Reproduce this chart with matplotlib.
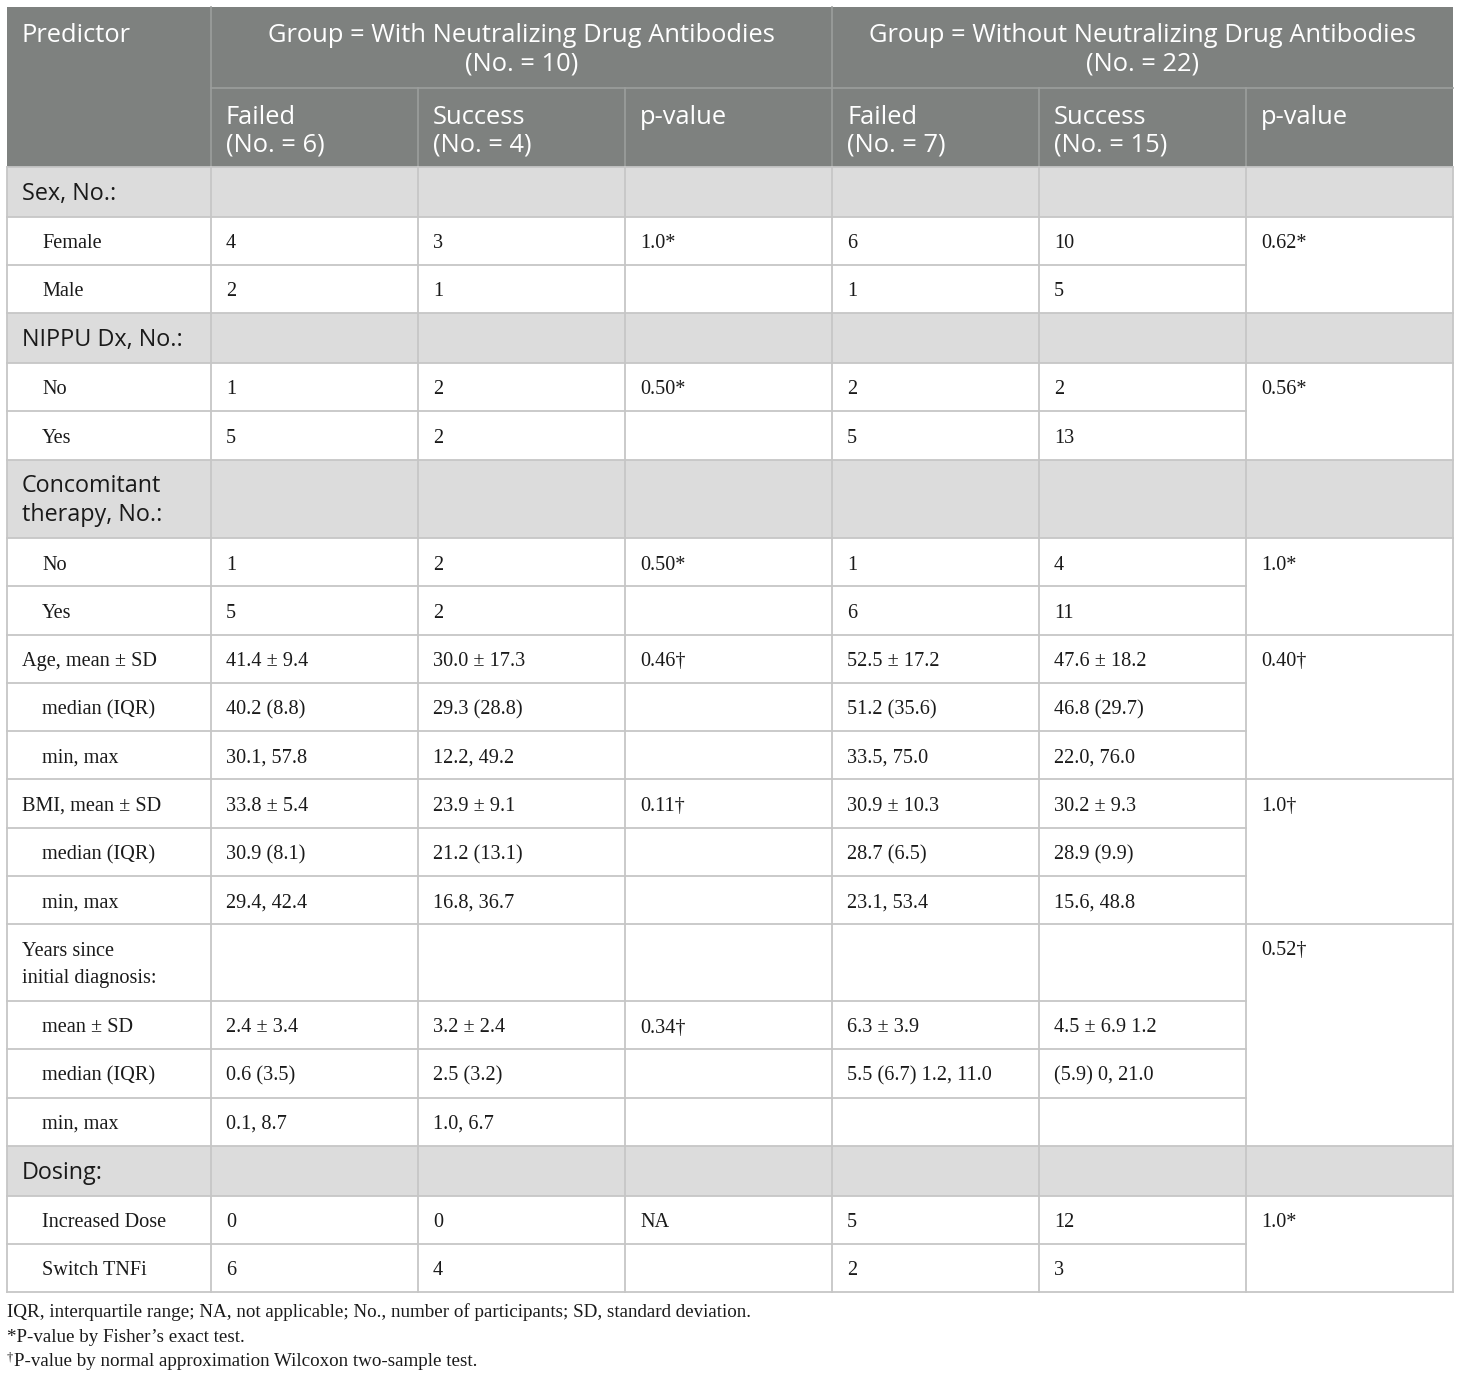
import matplotlib.pyplot as plt
from matplotlib.patches import Rectangle

# ---- table content ----
group_titles = ["Group = With Neutralizing Drug Antibodies\n(No. = 10)",
                "Group = Without Neutralizing Drug Antibodies\n(No. = 22)"]
sub_headers = ["Failed\n(No. = 6)", "Success\n(No. = 4)", "p-value",
               "Failed\n(No. = 7)", "Success\n(No. = 15)", "p-value"]

row_labels = ["Sex, No.:", "Female", "Male",
              "NIPPU Dx, No.:", "No", "Yes",
              "Concomitant\ntherapy, No.:", "No", "Yes",
              "Age, mean \u00b1 SD", "median (IQR)", "min, max",
              "BMI, mean \u00b1 SD", "median (IQR)", "min, max",
              "Years since\ninitial diagnosis:", "mean \u00b1 SD", "median (IQR)", "min, max",
              "Dosing:", "Increased Dose", "Switch TNFi"]
# S = section row (grey), M = main row, I = indented row
row_kinds = ["S", "I", "I", "S", "I", "I", "S", "I", "I",
             "M", "I", "I", "M", "I", "I", "M", "I", "I", "I",
             "S", "I", "I"]

failed_with = ["", "4", "2", "", "1", "5", "", "1", "5",
               "41.4 \u00b1 9.4", "40.2 (8.8)", "30.1, 57.8",
               "33.8 \u00b1 5.4", "30.9 (8.1)", "29.4, 42.4",
               "", "2.4 \u00b1 3.4", "0.6 (3.5)", "0.1, 8.7", "", "0", "6"]
success_with = ["", "3", "1", "", "2", "2", "", "2", "2",
                "30.0 \u00b1 17.3", "29.3 (28.8)", "12.2, 49.2",
                "23.9 \u00b1 9.1", "21.2 (13.1)", "16.8, 36.7",
                "", "3.2 \u00b1 2.4", "2.5 (3.2)", "1.0, 6.7", "", "0", "4"]
p_with = ["", "1.0*", "", "", "0.50*", "", "", "0.50*", "",
          "0.46\u2020", "", "", "0.11\u2020", "", "",
          "", "0.34\u2020", "", "", "", "NA", ""]
failed_without = ["", "6", "1", "", "2", "5", "", "1", "6",
                  "52.5 \u00b1 17.2", "51.2 (35.6)", "33.5, 75.0",
                  "30.9 \u00b1 10.3", "28.7 (6.5)", "23.1, 53.4",
                  "", "6.3 \u00b1 3.9", "5.5 (6.7) 1.2, 11.0", "", "", "5", "2"]
success_without = ["", "10", "5", "", "2", "13", "", "4", "11",
                   "47.6 \u00b1 18.2", "46.8 (29.7)", "22.0, 76.0",
                   "30.2 \u00b1 9.3", "28.9 (9.9)", "15.6, 48.8",
                   "", "4.5 \u00b1 6.9 1.2", "(5.9) 0, 21.0", "", "", "12", "3"]
# None = cell merged with the one above
p_without = ["", "0.62*", None, "", "0.56*", None, "", "1.0*", None,
             "0.40\u2020", None, None, "1.0\u2020", None, None,
             "0.52\u2020", None, None, None, "", "1.0*", None]

footnotes = ["IQR, interquartile range; NA, not applicable; No., number of participants; SD, standard deviation.",
             "*P-value by Fisher\u2019s exact test.",
             "\u2020P-value by normal approximation Wilcoxon two-sample test."]

columns = [failed_with, success_with, p_with, failed_without, success_without, p_without]

# ---- layout ----
col_x = [7, 211, 418, 625, 832, 1039, 1246, 1453]
top = 7
head1_h, head2_h = 81, 79
pad = 15

head_bg = "#7e817f"
head_line = "#9c9e9d"
sect_bg = "#dcdcdc"
grid = "#c6c6c6"
txt = "#1a1a1a"

sans = ["Open Sans", "DejaVu Sans"]
serif = ["Liberation Serif", "DejaVu Serif"]
fs_head, fs_sect, fs_body, fs_note = 18.4, 16.8, 14.6, 13.7

fig = plt.figure(figsize=(14.6, 13.8), dpi=100)
ax = fig.add_axes([0, 0, 1, 1])
ax.set_xlim(0, 1460)
ax.set_ylim(1380, 0)
ax.axis("off")

# header
y1 = top + head1_h
y2 = y1 + head2_h
ax.add_patch(Rectangle((col_x[0], top), col_x[-1] - col_x[0], y2 - top, color=head_bg, lw=0))
ax.text(col_x[0] + pad, top + 35.5, "Predictor", family=sans, fontsize=fs_head, color="white")
for g, title in enumerate(group_titles):
    cx = (col_x[1 + 3 * g] + col_x[4 + 3 * g]) / 2
    for k, ln in enumerate(title.split("\n")):
        ax.text(cx, top + 35.5 + k * 28, ln, family=sans, fontsize=fs_head, color="white", ha="center")
for j, h in enumerate(sub_headers):
    for k, ln in enumerate(h.split("\n")):
        ax.text(col_x[j + 1] + pad, y1 + 35.5 + k * 28.5, ln, family=sans, fontsize=fs_head, color="white")
ax.plot([col_x[1], col_x[-1]], [y1, y1], color=head_line, lw=1.2)
for x in [col_x[1], col_x[4]]:
    ax.plot([x, x], [top, y2], color=head_line, lw=1.2)
for x in [col_x[2], col_x[3], col_x[5], col_x[6]]:
    ax.plot([x, x], [y1, y2], color=head_line, lw=1.2)

# body rows
single_h, double_h = 48.25, 77
y = y2
row_tops = []
for i, lab in enumerate(row_labels):
    n = lab.count("\n") + 1
    h = single_h if n == 1 else double_h
    if row_kinds[i] == "S":
        h += 1.5
    row_tops.append((y, h))
    y += h
body_end = y

for i, lab in enumerate(row_labels):
    yt, h = row_tops[i]
    kind = row_kinds[i]
    if kind == "S":
        ax.add_patch(Rectangle((col_x[0], yt), col_x[-1] - col_x[0], h, color=sect_bg, lw=0))
    # label
    for k, ln in enumerate(lab.split("\n")):
        if kind == "S":
            ax.text(col_x[0] + pad, yt + 33 + k * 28.5, ln, family=sans, fontsize=fs_sect, color=txt)
        else:
            x0 = col_x[0] + pad + (20 if kind == "I" else 0)
            ax.text(x0, yt + 31.5 + k * 28, ln, family=serif, fontsize=fs_body, color=txt)
    # values
    for j, col in enumerate(columns):
        v = col[i]
        if v:
            ax.text(col_x[j + 1] + pad, yt + 31.5, v, family=serif, fontsize=fs_body, color=txt)
    # horizontal line at top of row
    right = col_x[-1] if p_without[i] is not None else col_x[-2]
    ax.plot([col_x[0], right], [yt, yt], color=grid, lw=1.3)

ax.plot([col_x[0], col_x[-1]], [body_end, body_end], color=grid, lw=1.3)
for x in col_x:
    ax.plot([x, x], [y2, body_end], color=grid, lw=1.3)

# footnotes
fy = [1317, 1341.5, 1366]
ax.text(col_x[0], fy[0], footnotes[0], family=serif, fontsize=fs_note, color=txt)
ax.text(col_x[0], fy[1], footnotes[1], family=serif, fontsize=fs_note, color=txt)
ax.text(col_x[0], fy[2] - 6, footnotes[2][0], family=serif, fontsize=9, color=txt)
ax.text(col_x[0] + 7, fy[2], footnotes[2][1:], family=serif, fontsize=fs_note, color=txt)

fig.savefig("out.png", dpi=100, facecolor="white")
